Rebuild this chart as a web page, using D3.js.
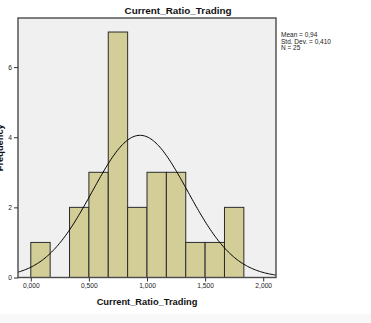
<!DOCTYPE html>
<html>
<head>
<meta charset="utf-8">
<script src="https://cdn.jsdelivr.net/npm/d3@7"></script>
<style>
  html, body { margin: 0; padding: 0; background: #ffffff; }
  svg { display: block; font-family: "Liberation Sans", Arial, sans-serif; }
</style>
</head>
<body>
<svg id="chart" width="371" height="323"></svg>
<script>
// Histogram bins (lower edges) and their frequencies
const binStarts = [0.0, 0.1667, 0.3333, 0.5, 0.6667, 0.8333, 1.0, 1.1667, 1.3333, 1.5, 1.6667];
const binWidth = 0.1667;
const counts = [1, 0, 2, 3, 7, 2, 3, 3, 1, 1, 2];

// Axis ticks
const xTicks = [0, 0.5, 1.0, 1.5, 2.0];
const yTicks = [0, 2, 4, 6];

// Summary statistics for the fitted normal curve
const statMean = 0.94;
const statSd = 0.410;
const statN = 25;
const statLines = ["Mean = 0,94", "Std. Dev. = 0,410", "N = 25"];

const svg = d3.select("#chart");
const W = 371, H = 323;
const plot = { left: 18, right: 276, top: 18, bottom: 277.5 };

// light band at the bottom of the canvas
svg.append("rect").attr("x", 0).attr("y", 314).attr("width", W).attr("height", H - 314)
  .attr("fill", "#f8f8f8");

const x = d3.scaleLinear().domain([-0.11, 2.11]).range([plot.left, plot.right]);
const y = d3.scaleLinear().domain([0, 7.4]).range([plot.bottom, plot.top]);

// plot background
svg.append("rect")
  .attr("x", plot.left).attr("y", plot.top)
  .attr("width", plot.right - plot.left).attr("height", plot.bottom - plot.top)
  .attr("fill", "#f0f0f0");

// bars
const bins = binStarts.map((s, i) => ({ x0: s, x1: s + binWidth, n: counts[i] }))
  .filter(d => d.n > 0);
svg.append("g").selectAll("rect").data(bins).join("rect")
  .attr("x", d => x(d.x0))
  .attr("y", d => y(d.n))
  .attr("width", d => x(d.x1) - x(d.x0))
  .attr("height", d => y(0) - y(d.n))
  .attr("fill", "#d3ce98")
  .attr("stroke", "#2b2b2b")
  .attr("stroke-width", 1);

// fitted normal curve, scaled to counts
const scaleK = statN * binWidth / (statSd * Math.sqrt(2 * Math.PI));
const curvePts = d3.range(0, 201).map(i => {
  const v = x.domain()[0] + (x.domain()[1] - x.domain()[0]) * i / 200;
  const z = (v - statMean) / statSd;
  return [v, scaleK * Math.exp(-0.5 * z * z)];
});
const clipId = "plotClip";
svg.append("clipPath").attr("id", clipId).append("rect")
  .attr("x", plot.left).attr("y", plot.top)
  .attr("width", plot.right - plot.left).attr("height", plot.bottom - plot.top);
svg.append("path")
  .datum(curvePts)
  .attr("clip-path", `url(#${clipId})`)
  .attr("fill", "none")
  .attr("stroke", "#000")
  .attr("stroke-width", 1)
  .attr("d", d3.line().x(d => x(d[0])).y(d => y(d[1])).curve(d3.curveBasis));

// plot frame
svg.append("rect")
  .attr("x", plot.left).attr("y", plot.top)
  .attr("width", plot.right - plot.left).attr("height", plot.bottom - plot.top)
  .attr("fill", "none").attr("stroke", "#4a4a4a").attr("stroke-width", 1.4);

// axes
const fmtX = v => d3.format(".3f")(v).replace(".", ",");
const xAxis = d3.axisBottom(x).tickValues(xTicks).tickFormat(fmtX).tickSize(4).tickPadding(2);
const gx = svg.append("g").attr("transform", `translate(0,${plot.bottom})`).call(xAxis);
gx.select(".domain").remove();
gx.selectAll(".tick line").attr("stroke", "#333");
gx.selectAll(".tick text").attr("font-size", 6.7).attr("fill", "#222")
  .attr("font-family", "'Liberation Sans', Arial, sans-serif");

const yAxis = d3.axisLeft(y).tickValues(yTicks).tickFormat(d3.format("d")).tickSize(4).tickPadding(2);
const gy = svg.append("g").attr("transform", `translate(${plot.left},0)`).call(yAxis);
gy.select(".domain").remove();
gy.selectAll(".tick line").attr("stroke", "#333");
gy.selectAll(".tick text").attr("font-size", 6.7).attr("fill", "#222")
  .attr("font-family", "'Liberation Sans', Arial, sans-serif");

// title
svg.append("text")
  .attr("x", 178).attr("y", 14)
  .attr("text-anchor", "middle")
  .attr("font-size", 9.9).attr("font-weight", "bold").attr("fill", "#111")
  .text("Current_Ratio_Trading");

// x axis title
svg.append("text")
  .attr("x", (plot.left + plot.right) / 2).attr("y", 305)
  .attr("text-anchor", "middle")
  .attr("font-size", 9.3).attr("font-weight", "bold").attr("fill", "#111")
  .text("Current_Ratio_Trading");

// y axis title
svg.append("text")
  .attr("transform", `translate(3,${(plot.top + plot.bottom) / 2}) rotate(-90)`)
  .attr("text-anchor", "middle")
  .attr("font-size", 9.3).attr("font-weight", "bold").attr("fill", "#111")
  .text("Frequency");

// statistics legend
svg.append("g").selectAll("text").data(statLines).join("text")
  .attr("x", 281)
  .attr("y", (d, i) => 37 + i * 6.5)
  .attr("font-size", 6.5).attr("fill", "#222")
  .text(d => d);
</script>
</body>
</html>
